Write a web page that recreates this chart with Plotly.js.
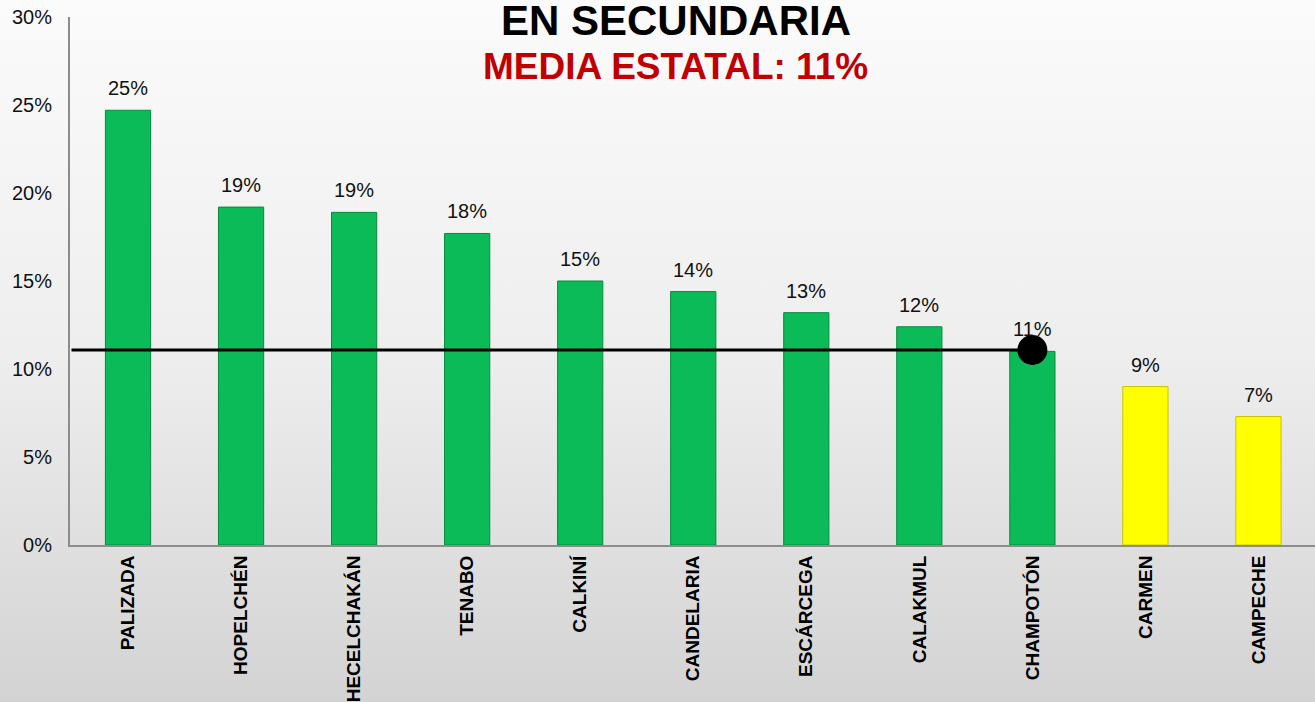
<!DOCTYPE html>
<html>
<head>
<meta charset="utf-8">
<script src="https://cdn.plot.ly/plotly-3.0.1.min.js"></script>
<style>
html,body{margin:0;padding:0;width:1315px;height:702px;overflow:hidden;
background:linear-gradient(to bottom,#fbfbfb 0%,#eeeeee 50%,#d3d3d3 100%);}
#chart{width:1315px;height:702px;}
</style>
</head>
<body>
<div id="chart"></div>
<script>
const categories = ['PALIZADA','HOPELCHÉN','HECELCHAKÁN','TENABO','CALKINÍ','CANDELARIA','ESCÁRCEGA','CALAKMUL','CHAMPOTÓN','CARMEN','CAMPECHE'];
const values = [24.7, 19.2, 18.9, 17.7, 15.0, 14.4, 13.2, 12.4, 11.0, 9.0, 7.3];
const colorGroup = ['g','g','g','g','g','g','g','g','g','y','y'];
const mediaEstatal = 11.08;
const mediaLabel = 'MEDIA ESTATAL: 11%';
const titleText = 'EN SECUNDARIA';
const yTicks = [0,5,10,15,20,25,30];

const FONT = 'Arial, "Liberation Sans", sans-serif';
const fillColors = colorGroup.map(c => c === 'g' ? '#0BBB57' : '#FFFF00');
const lineColors = colorGroup.map(c => c === 'g' ? '#078a3f' : '#c9c400');

const meanIdx = categories.indexOf('CHAMPOTÓN');

const bars = {
  type: 'bar',
  x: categories,
  y: values,
  marker: {color: fillColors, line: {color: lineColors, width: 1}},
  hoverinfo: 'x+y',
  showlegend: false
};

const meanMarker = {
  type: 'scatter',
  mode: 'markers',
  x: [categories[meanIdx]],
  y: [mediaEstatal],
  marker: {color: '#000', size: 30},
  showlegend: false,
  hoverinfo: 'y'
};

const labelAnns = categories.map((c, i) => ({
  x: c, y: values[i], xref: 'x', yref: 'y',
  text: Math.round(values[i]) + '%',
  showarrow: false, yanchor: 'bottom', yshift: 9,
  font: {family: FONT, size: 20, color: '#111'}
}));

const titleAnns = [
  {xref: 'paper', yref: 'paper', x: 0.4867, y: 0.993, yanchor: 'middle', xanchor: 'center',
   text: '<b>' + titleText + '</b>', showarrow: false,
   font: {family: FONT, size: 42, color: '#000'}},
  {xref: 'paper', yref: 'paper', x: 0.4867, y: 0.907, yanchor: 'middle', xanchor: 'center',
   text: '<b>' + mediaLabel + '</b>', showarrow: false,
   font: {family: FONT, size: 37, color: '#C00000'}}
];

const layout = {
  width: 1315, height: 702,
  margin: {l: 70, r: 0, t: 17, b: 157},
  paper_bgcolor: 'rgba(0,0,0,0)',
  plot_bgcolor: 'rgba(0,0,0,0)',
  bargap: 0.6,
  xaxis: {
    type: 'category',
    showline: true, linecolor: '#8c8c8c', linewidth: 2,
    tickangle: -90, ticks: '', ticklabelstandoff: 1,
    tickfont: {family: FONT, size: 19, color: '#000', weight: 'bold'},
    showgrid: false, zeroline: false, fixedrange: true
  },
  yaxis: {
    range: [0, 30], tickvals: yTicks, ticktext: yTicks.map(v => v + '%'),
    showline: true, linecolor: '#8c8c8c', linewidth: 2,
    ticks: '', ticklabelstandoff: 12,
    tickfont: {family: FONT, size: 20, color: '#111'},
    showgrid: false, zeroline: false, fixedrange: true
  },
  shapes: [{
    type: 'line', xref: 'x', yref: 'y',
    x0: -0.5, x1: meanIdx, y0: mediaEstatal, y1: mediaEstatal,
    line: {color: '#000', width: 3}
  }],
  annotations: labelAnns.concat(titleAnns)
};

Plotly.newPlot('chart', [bars, meanMarker], layout, {displayModeBar: false, staticPlot: true});
</script>
</body>
</html>
